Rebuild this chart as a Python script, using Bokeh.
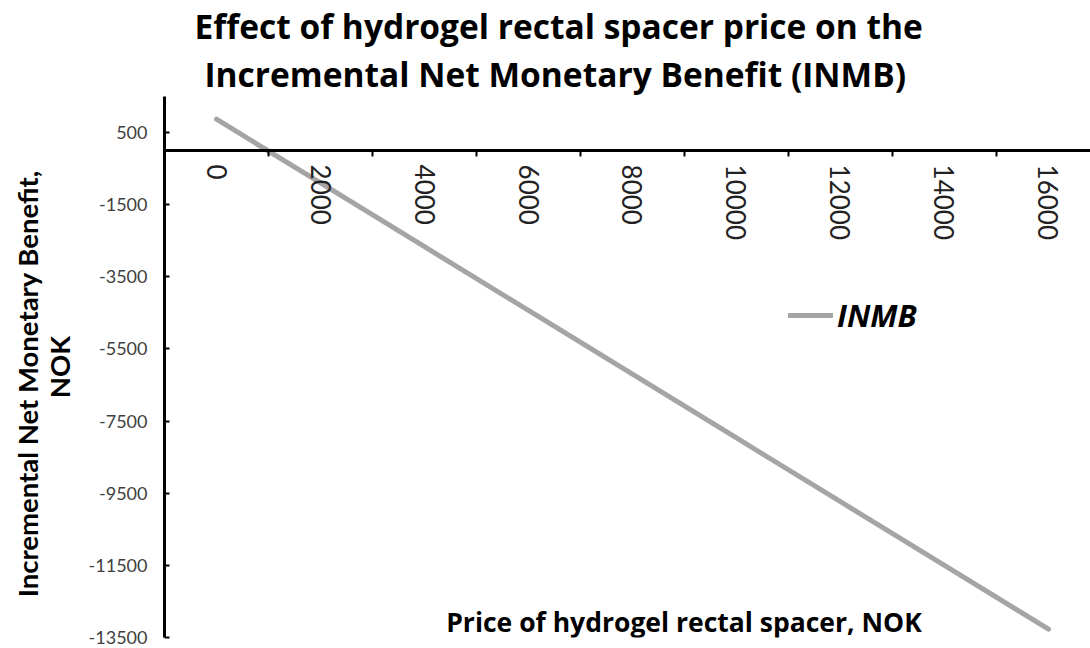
from bokeh.plotting import figure
from bokeh.models import FixedTicker, Label, Legend, LegendItem, Title
from bokeh.embed import file_html
from bokeh.resources import INLINE

# ---- data ----
price = [0, 2000, 4000, 6000, 8000, 10000, 12000, 14000, 16000]
inmb = [870, -898, -2665, -4433, -6200, -7968, -9735, -11503, -13270]
x_ticks = [0, 2000, 4000, 6000, 8000, 10000, 12000, 14000, 16000]
x_minor_ticks = [-1000, 1000, 3000, 5000, 7000, 9000, 11000, 13000, 15000, 17000]
y_ticks = [500, -1500, -3500, -5500, -7500, -9500, -11500, -13500]
title_lines = ["Effect of hydrogel rectal spacer price on the",
               "Incremental Net Monetary Benefit (INMB)"]
x_title = "Price of hydrogel rectal spacer, NOK"
y_title = "Incremental Net Monetary Benefit,\u00a0\u00a0\u00a0\u00a0\u00a0\nNOK"
series_name = "INMB"

FONT = "Lato"
WFONT = "Open Sans"

p = figure(width=1090, height=648, output_backend="svg", toolbar_location=None,
           x_range=(-1000, 16808), y_range=(-13500, 1500),
           min_border_left=164, min_border_top=96, min_border_bottom=11, min_border_right=0)
p.grid.visible = False
p.outline_line_color = None
p.background_fill_color = "white"
p.border_fill_color = "white"

r = p.line(price, inmb, line_color="#A5A5A5", line_width=5, line_cap="round")

# x axis crossing at y=0
xa = p.xaxis[0]
xa.fixed_location = 0
xa.ticker = FixedTicker(ticks=x_ticks, minor_ticks=x_minor_ticks)
xa.axis_line_width = 3
xa.axis_line_color = "black"
xa.major_tick_in = 0
xa.major_tick_out = 0
xa.minor_tick_in = 0
xa.minor_tick_out = 6
xa.minor_tick_line_width = 2
xa.minor_tick_line_color = "black"
xa.major_label_orientation = "vertical"
xa.major_label_standoff = 8
xa.major_label_text_font = FONT
xa.major_label_text_font_size = "26px"
xa.major_label_text_color = "#222222"

ya = p.yaxis[0]
ya.ticker = FixedTicker(ticks=y_ticks, minor_ticks=[])
ya.major_label_overrides = {v: str(v) for v in y_ticks}
ya.axis_line_width = 3
ya.axis_line_color = "black"
ya.major_tick_in = 5
ya.major_tick_out = 0
ya.major_tick_line_width = 2
ya.major_label_standoff = 17
ya.major_label_text_font = FONT
ya.major_label_text_font_size = "18px"
ya.major_label_text_color = "#404040"
ya.axis_label = y_title
ya.axis_label_text_font = FONT
ya.axis_label_text_font_size = "27.5px"
ya.axis_label_text_font_style = "bold"
ya.axis_label_text_color = "black"
ya.axis_label_text_line_height = 0.97
ya.axis_label_standoff = 10

# titles (second line added first so it sits next to the frame)
p.add_layout(Title(text=title_lines[1], align="left", offset=40, standoff=0,
                   text_font=WFONT, text_font_size="33.5px", text_font_style="bold",
                   text_line_height=1.0, text_color="black"), "above")
p.add_layout(Title(text=title_lines[0], align="left", offset=30, standoff=0,
                   text_font=WFONT, text_font_size="33.5px", text_font_style="bold",
                   text_line_height=1.0, text_color="black"), "above")

p.add_layout(Label(x=8990, y=-13059, text=x_title, text_align="center",
                   text_baseline="alphabetic", text_font=WFONT,
                   text_font_size="26.5px", text_font_style="bold",
                   text_color="black"))

legend = Legend(items=[LegendItem(label=series_name, renderers=[r])],
                location=(624, 301), padding=0, margin=0, spacing=0,
                glyph_width=45, glyph_height=36, label_standoff=4,
                border_line_color=None, background_fill_alpha=0,
                label_text_font=WFONT, label_text_font_size="31px",
                label_text_font_style="bold italic", label_text_color="black")
p.add_layout(legend, "center")

open("out.html", "w").write(file_html(p, INLINE))
